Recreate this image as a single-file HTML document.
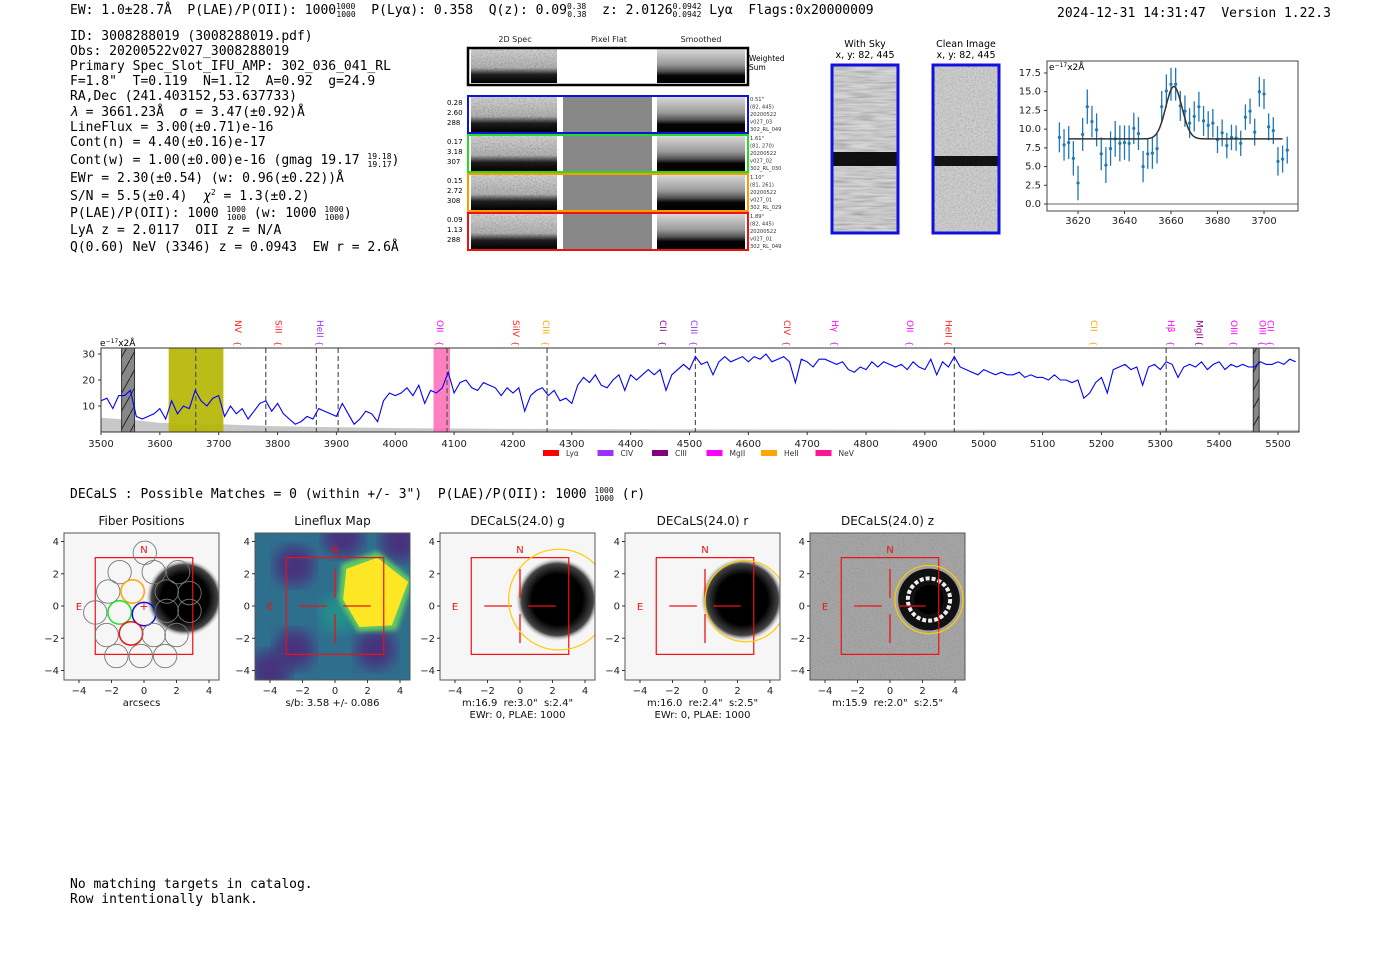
<!DOCTYPE html>
<html><head><meta charset="utf-8">
<style>
html,body{margin:0;padding:0;background:#fff;}
svg{display:block;font-family:"DejaVu Sans","Liberation Sans",sans-serif;}
text{white-space:pre;}
.mono{font-family:"DejaVu Sans Mono","Liberation Mono",monospace;font-size:13px;fill:#000;white-space:pre;}
.tk{font-size:10px;fill:#222;}
.sm{font-size:8px;fill:#222;}
</style></head>
<body>
<svg id="root" width="1400" height="953" viewBox="0 0 1400 953" xmlns="http://www.w3.org/2000/svg" xml:space="preserve">
<defs>
  <filter id="gnoise" x="0" y="0" width="100%" height="100%">
    <feTurbulence type="fractalNoise" baseFrequency="0.6" numOctaves="2" seed="7" result="t"/>
    <feColorMatrix in="t" type="matrix" values="0.33 0.33 0.33 0 0.15  0.33 0.33 0.33 0 0.15  0.33 0.33 0.33 0 0.15  0 0 0 0 1"/>
    <feComponentTransfer><feFuncR type="linear" slope="1.6" intercept="-0.2"/><feFuncG type="linear" slope="1.6" intercept="-0.2"/><feFuncB type="linear" slope="1.6" intercept="-0.2"/></feComponentTransfer>
  </filter>
  <filter id="snoise" x="0" y="0" width="100%" height="100%">
    <feTurbulence type="fractalNoise" baseFrequency="0.04 0.5" numOctaves="2" seed="5" result="t"/>
    <feColorMatrix in="t" type="matrix" values="0.33 0.33 0.33 0 0.05  0.33 0.33 0.33 0 0.05  0.33 0.33 0.33 0 0.05  0 0 0 0 1"/>
    <feComponentTransfer><feFuncR type="linear" slope="1.5" intercept="0"/><feFuncG type="linear" slope="1.5" intercept="0"/><feFuncB type="linear" slope="1.5" intercept="0"/></feComponentTransfer>
  </filter>
  <filter id="blur2"><feGaussianBlur stdDeviation="2.5"/></filter>
  <filter id="blur6"><feGaussianBlur stdDeviation="7"/></filter>
  <linearGradient id="darkbot" x1="0" y1="0" x2="0" y2="1">
    <stop offset="0" stop-color="#000" stop-opacity="0"/>
    <stop offset="0.55" stop-color="#000" stop-opacity="0.15"/>
    <stop offset="0.75" stop-color="#000" stop-opacity="0.85"/>
    <stop offset="1" stop-color="#000" stop-opacity="1"/>
  </linearGradient>
  <linearGradient id="smooth" x1="0" y1="0" x2="0" y2="1">
    <stop offset="0" stop-color="#d8d8d8"/>
    <stop offset="0.45" stop-color="#9a9a9a"/>
    <stop offset="0.65" stop-color="#555"/>
    <stop offset="0.78" stop-color="#050505"/>
    <stop offset="1" stop-color="#000"/>
  </linearGradient>
  <radialGradient id="blob"><stop offset="0.6" stop-color="#000"/><stop offset="0.85" stop-color="#444"/><stop offset="1" stop-color="#fff" stop-opacity="0"/></radialGradient>
  <pattern id="hatch" width="10" height="18" patternUnits="userSpaceOnUse"><line x1="0" y1="18" x2="10" y2="0" stroke="#222" stroke-width="1"/></pattern>
</defs>

<g>
<text class="mono" x="70" y="14">EW: 1.0±28.7Å  P(LAE)/P(OII): 1000<tspan font-size="8" dy="-5">1000</tspan><tspan font-size="8" dx="-19" dy="8">1000</tspan><tspan dy="-3">  P(Lyα): 0.358  Q(z): 0.09</tspan><tspan font-size="8" dy="-5">0.38</tspan><tspan font-size="8" dx="-19" dy="8">0.38</tspan><tspan dy="-3">  z: 2.0126</tspan><tspan font-size="8" dy="-5">0.0942</tspan><tspan font-size="8" dx="-29" dy="8">0.0942</tspan><tspan dy="-3"> Lyα  Flags:0x20000009</tspan></text>
<text class="mono" x="1057" y="17">2024-12-31 14:31:47  Version 1.22.3</text>
</g>

<g>
<text class="mono" x="70" y="40">ID: 3008288019 (3008288019.pdf)</text>
<text class="mono" x="70" y="55">Obs: 20200522v027_3008288019</text>
<text class="mono" x="70" y="70">Primary Spec_Slot_IFU_AMP: 302_036_041_RL</text>
<text class="mono" x="70" y="85">F=1.8"  T=0.119  N=1.12  A=0.92  g=24.9</text>
<text class="mono" x="70" y="100">RA,Dec (241.403152,53.637733)</text>
<text class="mono" x="70" y="116"><tspan font-style="italic">λ</tspan> = 3661.23Å  <tspan font-style="italic">σ</tspan> = 3.47(±0.92)Å</text>
<text class="mono" x="70" y="131">LineFlux = 3.00(±0.71)e-16</text>
<text class="mono" x="70" y="146">Cont(n) = 4.40(±0.16)e-17</text>
<text class="mono" x="70" y="164">Cont(w) = 1.00(±0.00)e-16 (gmag 19.17 <tspan font-size="8" dy="-5">19.18</tspan><tspan font-size="8" dx="-24" dy="8">19.17</tspan><tspan dy="-3">)</tspan></text>
<text class="mono" x="70" y="182">EWr = 2.30(±0.54) (w: 0.96(±0.22))Å</text>
<text class="mono" x="70" y="200">S/N = 5.5(±0.4)  <tspan font-style="italic">χ</tspan><tspan font-size="8" dy="-5">2</tspan><tspan dy="5"> = 1.3(±0.2)</tspan></text>
<text class="mono" x="70" y="217">P(LAE)/P(OII): 1000 <tspan font-size="8" dy="-5">1000</tspan><tspan font-size="8" dx="-19" dy="8">1000</tspan><tspan dy="-3"> (w: 1000 </tspan><tspan font-size="8" dy="-5">1000</tspan><tspan font-size="8" dx="-19" dy="8">1000</tspan><tspan dy="-3">)</tspan></text>
<text class="mono" x="70" y="234">LyA z = 2.0117  OII z = N/A</text>
<text class="mono" x="70" y="251">Q(0.60) NeV (3346) z = 0.0943  EW r = 2.6Å</text>
</g>

<g id="spec2d">
<text class="sm" x="515" y="42" text-anchor="middle">2D Spec</text>
<text class="sm" x="609" y="42" text-anchor="middle">Pixel Flat</text>
<text class="sm" x="701" y="42" text-anchor="middle">Smoothed</text>
</g>

<g>
<text x="865" y="47" font-size="9.5" text-anchor="middle">With Sky</text>
<text x="865" y="58" font-size="9.5" text-anchor="middle">x, y: 82, 445</text>
<rect x="832" y="65" width="66" height="168" fill="#bbb" filter="url(#snoise)"/>
<rect x="832" y="65" width="66" height="168" fill="#777" opacity="0.3"/>
<rect x="832" y="152" width="66" height="14" fill="#000" opacity="0.92"/>
<rect x="832" y="65" width="66" height="168" fill="none" stroke="#1010e0" stroke-width="3"/>
<text x="966" y="47" font-size="9.5" text-anchor="middle">Clean Image</text>
<text x="966" y="58" font-size="9.5" text-anchor="middle">x, y: 82, 445</text>
<rect x="933" y="65" width="66" height="168" fill="#aaa" filter="url(#gnoise)"/>
<rect x="933" y="65" width="66" height="168" fill="#999" opacity="0.45"/>
<rect x="933" y="156" width="66" height="10" fill="#000" opacity="0.9"/>
<rect x="933" y="65" width="66" height="168" fill="none" stroke="#1010e0" stroke-width="3"/>
</g>

<g id="zoomplot"></g>
<g id="bigplot"></g>

<text class="mono" x="70" y="498">DECaLS : Possible Matches = 0 (within +/- 3")  P(LAE)/P(OII): 1000 <tspan font-size="8" dy="-5">1000</tspan><tspan font-size="8" dx="-19" dy="8">1000</tspan><tspan dy="-3"> (r)</tspan></text>
<g id="cutouts"></g>

<text class="mono" x="70" y="888">No matching targets in catalog.</text>
<text class="mono" x="70" y="903">Row intentionally blank.</text>
</svg>

<script>
const NS='http://www.w3.org/2000/svg';
function mk(parent,tag,attrs,text){const e=document.createElementNS(NS,tag);for(const k in attrs)e.setAttribute(k,attrs[k]);if(text!==undefined)e.textContent=text;parent.appendChild(e);return e;}

const spec=document.getElementById('spec2d');
const rowColors=['#1010e0','#22dd22','#ff9900','#ee1111'];
const rowNums=[['0.28','2.60','288'],['0.17','3.18','307'],['0.15','2.72','308'],['0.09','1.13','288']];
const rowInfo=[['0.51"','(82, 445)','20200522','v027_03','302_RL_049'],['1.61"','(81, 270)','20200522','v027_02','302_RL_030'],['1.10"','(81, 261)','20200522','v027_01','302_RL_029'],['1.89"','(82, 445)','20200522','v027_01','302_RL_049']];
function specPanel(x,y,w,h){
  mk(spec,'rect',{x:x,y:y,width:w,height:h,fill:'#aaa',filter:'url(#gnoise)'});
  mk(spec,'rect',{x:x,y:y,width:w,height:h,fill:'#888',opacity:0.35});
  mk(spec,'rect',{x:x,y:y,width:w,height:h,fill:'url(#darkbot)'});
}
specPanel(471,49,86,34);
mk(spec,'rect',{x:657,y:49,width:88,height:34,fill:'url(#smooth)'});
const ws=mk(spec,'rect',{x:468,y:48,width:280,height:37,fill:'none',stroke:'#000','stroke-width':2.5});


mk(spec,'text',{x:749,y:61,'font-size':7.5},'Weighted');
mk(spec,'text',{x:749,y:70,'font-size':7.5},'Sum');
for(let i=0;i<4;i++){
  const y=96+i*39;
  specPanel(471,y+1,86,35);
  mk(spec,'rect',{x:563,y:y+1,width:89,height:35,fill:'#888'});
  mk(spec,'rect',{x:657,y:y+1,width:88,height:35,fill:'url(#smooth)'});
  const r=mk(spec,'rect',{x:468,y:y,width:280,height:37,fill:'none',stroke:rowColors[i],'stroke-width':2});
  
  
  rowNums[i].forEach((t,j)=>mk(spec,'text',{x:447,y:y+9+j*10,'font-size':7},t));
  rowInfo[i].forEach((t,j)=>mk(spec,'text',{x:750,y:y+5+j*7.5,'font-size':5.2,fill:'#333'},t));
}

const zWave=[3612,3614,3616,3618,3620,3622,3624,3626,3628,3630,3632,3634,3636,3638,3640,3642,3644,3646,3648,3650,3652,3654,3656,3658,3660,3662,3664,3666,3668,3670,3672,3674,3676,3678,3680,3682,3684,3686,3688,3690,3692,3694,3696,3698,3700,3702,3704,3706,3708,3710];
const zFlux=[8.9,7.9,8.2,6.1,2.8,9.3,13.0,11.0,9.9,6.7,5.2,7.4,8.7,8.1,8.2,8.1,10.1,9.4,5.0,6.7,6.8,7.4,13.0,15.1,16.0,16.0,13.1,12.4,10.8,11.7,13.0,11.1,10.5,10.8,8.6,9.5,7.8,8.9,8.8,8.1,11.6,12.4,9.6,15.0,14.7,10.3,9.8,5.7,6.0,7.2];
const zErr=[2.0,2.1,2.2,2.3,2.3,2.2,2.3,2.1,2.2,2.2,2.4,2.3,2.4,2.4,2.3,2.4,2.1,2.2,2.1,2.0,2.1,2.0,2.1,2.2,2.2,2.2,2.0,2.1,2.0,2.0,2.0,2.0,1.9,1.9,1.8,1.8,1.7,1.7,1.7,1.7,1.7,1.7,1.8,2.0,2.0,1.8,1.8,1.9,1.8,1.8];
const zFitCont=[8.7];
const zFitAmp=[7.0];
const zFitMu=[3661.23];
const zFitSigma=[3.47];
const zXTicks=[3620,3640,3660,3680,3700];
const zYTicks=[0.0,2.5,5.0,7.5,10.0,12.5,15.0,17.5];
(function(){
  const g=document.getElementById('zoomplot');
  const L=1047,R=1298,T=61,B=211;
  const X=w=>1078+(w-3620)*(186/80);
  const Y=v=>204-v*(131/17.5);
  mk(g,'rect',{x:L,y:T,width:R-L,height:B-T,fill:'#fff'});
  mk(g,'line',{x1:L,x2:R,y1:Y(0),y2:Y(0),stroke:'#666','stroke-width':1});
  zXTicks.forEach(t=>{mk(g,'line',{x1:X(t),x2:X(t),y1:B,y2:B+3,stroke:'#333'});const e=mk(g,'text',{x:X(t),y:B+13,'text-anchor':'middle',class:'tk','font-size':9},String(t));});
  zYTicks.forEach(t=>{mk(g,'line',{x1:L-3,x2:L,y1:Y(t),y2:Y(t),stroke:'#333'});const e=mk(g,'text',{x:L-6,y:Y(t)+3,'text-anchor':'end',class:'tk','font-size':9},t.toFixed(1));});
  zWave.forEach((w,i)=>{
    const b=mk(g,'line',{x1:X(w),x2:X(w),y1:Y(zFlux[i]-zErr[i]),y2:Y(zFlux[i]+zErr[i]),stroke:'#1f77b4','stroke-width':1.3});
    
    
    const p=mk(g,'circle',{cx:X(w),cy:Y(zFlux[i]),r:1.6,fill:'#1f77b4'});
    
    
  });
  let d='';
  for(let w=3616;w<=3708;w+=0.5){const v=zFitCont[0]+zFitAmp[0]*Math.exp(-0.5*Math.pow((w-zFitMu[0])/zFitSigma[0],2));d+=(d?'L':'M')+X(w).toFixed(1)+','+Y(v).toFixed(1);}
  const fit=mk(g,'path',{d:d,fill:'none',stroke:'#333','stroke-width':1.5});
  
  
  mk(g,'rect',{x:L,y:T,width:R-L,height:B-T,fill:'none',stroke:'#444','stroke-width':1});
  const u=mk(g,'text',{x:L+2,y:T+9,'font-size':9},'e');
  mk(u,'tspan',{'font-size':6,dy:-3},'−17');
  mk(u,'tspan',{dy:3},'x2Å');
  
  
})();

const bStart=[3500];
const bStep=[10];
const bFlux=[12,13,9,14,14,16,6,5,6,7,9,5,12,7,10,9,16,12,10,13,14,6,10,7,9,5,8,11,12,8,11,7,5,3,4,6,5,9,8,7,6,11,7,3,5,8,7,4,12,15,14,15,17,14,18,11,16,15,17,23,15,19,20,17,16,19,18,17,14,17,15,17,8,14,16,17,14,16,12,13,11,18,21,19,22,18,17,20,22,16,22,20,22,24,22,24,16,22,24,26,24,29,26,27,22,27,29,27,28,29,27,29,28,30,27,28,29,27,19,28,27,25,28,28,27,26,27,24,23,25,24,27,25,27,26,25,26,24,27,25,24,28,22,27,25,29,25,24,23,22,24,23,22,23,22,22,23,21,22,21,21,20,22,20,20,19,20,13,15,19,21,15,24,25,26,24,25,18,25,26,24,27,26,21,25,26,25,27,24,26,27,24,26,25,26,25,25,27,26,26,27,26,28,27];
const bErrWave=[3500,3560,3600,3700,3800,4000,4200,4500,5000,5536];
const bErrVal=[5.5,4.5,3.5,3.0,2.2,1.5,1.2,1.0,0.9,0.8];
const bXTicks=[3500,3600,3700,3800,3900,4000,4100,4200,4300,4400,4500,4600,4700,4800,4900,5000,5100,5200,5300,5400,5500];
const bYTicks=[10,20,30];
const bLineWaves=[3661,3780,3866,3903,4088,4258,4510,4950,5310];
const bLabelWaves=[3733,3802,3872,4076,4205,4256,4455,4508,4666,4747,4875,4940,5187,5318,5367,5425,5474,5487];
const bLabelText=['NV','SiII','HeII','OII','SiIV','CIII','CII','CIII','CIV','Hγ','OII','HeII','CII','Hβ','MgII','OIII','OIII','CII'];
const bLabelColor=['#ff2020','#ff2020','#9b30ff','#ff00ff','#ff2020','#ffa500','#8b008b','#9b30ff','#ff2020','#ff00ff','#ff00ff','#ff2020','#ffa500','#ff00ff','#8b008b','#ff00ff','#ff00ff','#ff00ff'];
const legendNames=['Lyα','CIV','CIII','MgII','HeII','NeV'];
const legendColors=['#ff0000','#9b30ff','#800080','#ff00ff','#ffa500','#ff1493'];
(function(){
  const g=document.getElementById('bigplot');
  const L=101,R=1299,T=348,B=432;
  const X=w=>101+(w-3500)*(1177/2000);
  const Y=v=>432-v*2.6;
  mk(g,'rect',{x:L,y:T,width:R-L,height:B-T,fill:'#fff'});
  let d='M'+X(bErrWave[0])+','+Y(0);
  bErrWave.forEach((w,i)=>{d+='L'+X(w).toFixed(1)+','+Y(bErrVal[i]).toFixed(1);});
  d+='L'+X(bErrWave[bErrWave.length-1])+','+Y(0)+'Z';
  const ef=mk(g,'path',{d:d,fill:'#c8c8c8'});
  
  
  const yl=mk(g,'rect',{x:X(3615),y:T,width:X(3708)-X(3615),height:B-T,fill:'#b5b500',opacity:0.9});
  
  
  const pk=mk(g,'rect',{x:X(4065),y:T,width:X(4093)-X(4065),height:B-T,fill:'#ff69b4',opacity:0.85});
  
  
  [[3535,3557],[5458,5468]].forEach(r=>{
    const m=mk(g,'rect',{x:X(r[0]),y:T,width:X(r[1])-X(r[0]),height:B-T,fill:'#888',stroke:'#333','stroke-width':1});
    
    
    mk(g,'rect',{x:X(r[0]),y:T,width:X(r[1])-X(r[0]),height:B-T,fill:'url(#hatch)'});
  });
  bLineWaves.forEach(w=>{
    const l=mk(g,'line',{x1:X(w),x2:X(w),y1:T,y2:B,stroke:'#555','stroke-width':1.2,'stroke-dasharray':'5,3'});
    
    
  });
  let p='';
  bFlux.forEach((v,i)=>{const w=bStart[0]+i*bStep[0];p+=(p?'L':'M')+X(w).toFixed(1)+','+Y(v).toFixed(1);});
  const sp=mk(g,'path',{d:p,fill:'none',stroke:'#0000ff','stroke-width':1.1});
  
  
  mk(g,'rect',{x:L,y:T,width:R-L,height:B-T,fill:'none',stroke:'#333','stroke-width':1});
  bXTicks.forEach(t=>{mk(g,'line',{x1:X(t),x2:X(t),y1:B,y2:B+3,stroke:'#333'});const e=mk(g,'text',{x:X(t),y:B+15,'text-anchor':'middle',class:'tk','font-size':9.5},String(t));});
  bYTicks.forEach(t=>{mk(g,'line',{x1:L-3,x2:L,y1:Y(t),y2:Y(t),stroke:'#333'});const e=mk(g,'text',{x:L-6,y:Y(t)+3.5,'text-anchor':'end',class:'tk','font-size':9.5},String(t));});
  const u=mk(g,'text',{x:100,y:346,'font-size':9},'e');
  mk(u,'tspan',{'font-size':6,dy:-3},'−17');
  mk(u,'tspan',{dy:3},'x2Å');
  
  
  bLabelWaves.forEach((w,i)=>{
    const x=X(w);
    const t=mk(g,'text',{x:0,y:0,transform:'translate('+(x-3)+',320) rotate(90)','font-size':9,fill:bLabelColor[i]},bLabelText[i]);
    
    
    mk(g,'text',{x:0,y:0,transform:'translate('+(x-3)+',341) rotate(90)','font-size':8,fill:bLabelColor[i]},'{');
  });
  legendNames.forEach((n,i)=>{
    const lx=543+i*54.5;
    const r=mk(g,'rect',{x:lx,y:450,width:16,height:6,fill:legendColors[i]});
    
    
    const t=mk(g,'text',{x:lx+23,y:456,'font-size':7.5,fill:'#333'},n);
    
    
  });
})();

const panelX=[64,255,440,625,810];
const panelTitles=['Fiber Positions','Lineflux Map','DECaLS(24.0) g','DECaLS(24.0) r','DECaLS(24.0) z'];
const panelCaps=[['arcsecs'],['s/b: 3.58 +/- 0.086'],['m:16.9  re:3.0"  s:2.4"','EWr: 0, PLAE: 1000'],['m:16.0  re:2.4"  s:2.5"','EWr: 0, PLAE: 1000'],['m:15.9  re:2.0"  s:2.5"']];
const cutTicks=[-4,-2,0,2,4];
const fiberX=[0.05,-1.5,0.6,-2.2,-0.7,1.4,2.8,-3.0,-1.5,0.0,1.4,2.8,-2.3,-0.8,0.6,2.0,-1.7,-0.2,1.3,2.1];
const fiberY=[3.3,2.1,2.1,0.9,0.9,0.9,0.8,-0.4,-0.4,-0.5,-0.3,-0.3,-1.8,-1.7,-1.8,-1.8,-3.1,-3.1,-3.1,2.1];
const fiberColor=['#777','#777','#777','#777','#ffa500','#777','#777','#777','#22dd22','#1010e0','#777','#777','#777','#ee1111','#777','#777','#777','#777','#777','#777'];
(function(){
  const root=document.getElementById('cutouts');
  panelX.forEach((px,pi)=>{
    const g=mk(root,'g',{});
    
    
    const W=155,T=533,H=147;
    const sc=130/8;
    const X=v=>px+15+(v+4)*sc;
    const Y=v=>606-v*(129/8);
    const cid='clip'+pi;
    const cp=mk(g,'clipPath',{id:cid});mk(cp,'rect',{x:px,y:T,width:W,height:H});
    const ig=mk(g,'g',{'clip-path':'url(#'+cid+')'});
    if(pi===0||pi===2||pi===3){
      mk(ig,'rect',{x:px,y:T,width:W,height:H,fill:'#f6f6f6'});
      const cx=pi===0?2.5:2.3,cy=pi===0?0.5:0.4,rr=pi===0?2.4:2.6;
      mk(ig,'circle',{cx:X(cx),cy:Y(cy),r:rr*sc,fill:'url(#blob)'});
    } else if(pi===1){
      mk(ig,'rect',{x:px,y:T,width:W,height:H,fill:'#2f6f8e'});
      [[-2.5,2.5],[-2.5,-2.7],[2.5,-2.7],[-4,-4],[4,4],[0.5,4.3]].forEach(c=>mk(ig,'circle',{cx:X(c[0]),cy:Y(c[1]),r:20,fill:'#46327e',filter:'url(#blur6)'}));
      mk(ig,'circle',{cx:X(0.2),cy:Y(-0.5),r:18,fill:'#21918c',filter:'url(#blur6)'});
      mk(ig,'polygon',{points:[[0.4,2.6],[2.6,3.4],[4.8,1.6],[3.8,-1.5],[1.4,-1.6],[0.2,0.4]].map(p=>X(p[0])+','+Y(p[1])).join(' '),fill:'#5ec962',filter:'url(#blur2)'});
      mk(ig,'polygon',{points:[[0.7,2.3],[2.6,3.0],[4.5,1.5],[3.5,-1.2],[1.5,-1.3],[0.5,0.4]].map(p=>X(p[0])+','+Y(p[1])).join(' '),fill:'#fde725'});
    } else {
      mk(ig,'rect',{x:px,y:T,width:W,height:H,fill:'#8a8a8a'});
      mk(ig,'rect',{x:px,y:T,width:W,height:H,fill:'#888',filter:'url(#gnoise)',opacity:0.25});
      mk(ig,'circle',{cx:X(2.4),cy:Y(0.4),r:1.9*sc,fill:'#111'});
      mk(ig,'circle',{cx:X(2.4),cy:Y(0.4),r:1.3*sc,fill:'none',stroke:'#eee','stroke-width':4,'stroke-dasharray':'4,2'});
      mk(ig,'circle',{cx:X(2.4),cy:Y(0.4),r:0.9*sc,fill:'#000'});
    }
    mk(ig,'rect',{x:X(-3),y:Y(3),width:X(3)-X(-3),height:Y(-3)-Y(3),fill:'none',stroke:'#ee1111','stroke-width':1.2});
    if(pi===0){
      fiberX.forEach((fx,i)=>{
        const c=mk(ig,'circle',{cx:X(fx),cy:Y(fiberY[i]),r:0.72*sc,fill:'none',stroke:fiberColor[i],'stroke-width':fiberColor[i]==='#777'?0.9:1.5});
        
        
      });
      mk(ig,'text',{x:X(0),y:Y(0)+4,'text-anchor':'middle','font-size':11,fill:'#ee1111'},'+');
    } else {
      [[[-2.2,0],[-0.5,0]],[[0.5,0],[2.2,0]],[[0,2.3],[0,0.5]],[[0,-0.5],[0,-2.3]]].forEach(s=>mk(ig,'line',{x1:X(s[0][0]),y1:Y(s[0][1]),x2:X(s[1][0]),y2:Y(s[1][1]),stroke:'#ee1111','stroke-width':1.3}));
    }
    if(pi>=2){
      const cr=pi===2?[2.4,0.4,3.1]:pi===3?[2.5,0.3,2.5]:[2.4,0.4,2.1];
      const e=mk(ig,'circle',{cx:X(cr[0]),cy:Y(cr[1]),r:cr[2]*sc,fill:'none',stroke:'#ffcc00','stroke-width':1.2});
      
      
    }
    mk(ig,'text',{x:X(0),y:Y(3.3),'text-anchor':'middle','font-size':10,fill:'#ee1111'},'N');
    mk(ig,'text',{x:X(-4),y:Y(0)+4,'text-anchor':'middle','font-size':10,fill:'#ee1111'},'E');
    mk(g,'rect',{x:px,y:T,width:W,height:H,fill:'none',stroke:'#555','stroke-width':1});
    const tt=mk(g,'text',{x:px+W/2,y:525,'text-anchor':'middle','font-size':12,fill:'#111'},panelTitles[pi]);
    
    
    cutTicks.forEach(t=>{
      mk(g,'line',{x1:X(t),x2:X(t),y1:T+H,y2:T+H+3,stroke:'#333'});
      mk(g,'text',{x:X(t),y:T+H+14,'text-anchor':'middle',class:'tk'},(t<0?'−':'')+Math.abs(t));
      mk(g,'line',{x1:px-3,x2:px,y1:Y(t),y2:Y(t),stroke:'#333'});
      mk(g,'text',{x:px-5,y:Y(t)+3.5,'text-anchor':'end',class:'tk'},(t<0?'−':'')+Math.abs(t));
    });
    panelCaps[pi].forEach((c,j)=>{
      const ct=mk(g,'text',{x:px+W/2,y:706+j*12,'text-anchor':'middle','font-size':10,fill:'#111'},c);
      
      
    });
  });
})();
</script>
</body></html>
